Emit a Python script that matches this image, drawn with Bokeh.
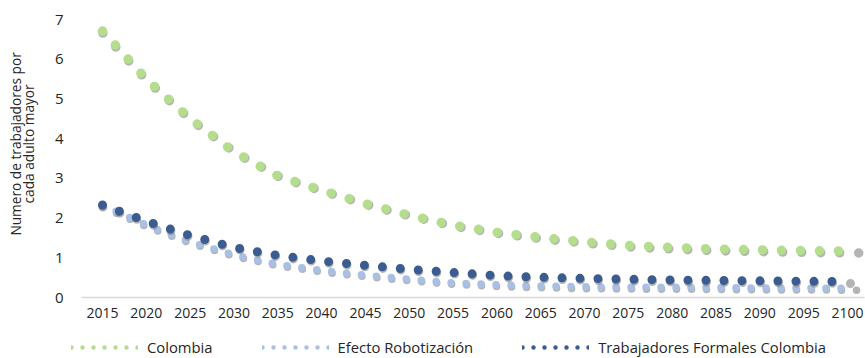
from bokeh.plotting import figure
from bokeh.layouts import column, row
from bokeh.models import Range1d, FixedTicker, Legend, LegendItem, Label
from bokeh.embed import file_html
from bokeh.resources import INLINE
import math

# Workers per older adult, 2015-2100 (5-year steps)
years = list(range(2015, 2101, 5))
colombia = [6.71, 5.50, 4.50, 3.67, 3.06, 2.70, 2.36, 2.07, 1.82, 1.64,
            1.51, 1.40, 1.31, 1.26, 1.22, 1.20, 1.18, 1.17]
efecto_robotizacion = [2.33, 1.82, 1.40, 1.07, 0.83, 0.68, 0.56, 0.46, 0.37, 0.32,
                       0.29, 0.27, 0.26, 0.26, 0.25, 0.24, 0.24, 0.23]
trabajadores_formales = [2.33, 1.92, 1.56, 1.26, 1.06, 0.92, 0.81, 0.71, 0.63, 0.55,
                         0.51, 0.48, 0.46, 0.44, 0.43, 0.42, 0.41, 0.40]
y_ticks = [0, 1, 2, 3, 4, 5, 6, 7]

series_names = ["Colombia", "Efecto Robotización", "Trabajadores Formales Colombia"]
colors = ["#b5dd8e", "#a9c0e4", "#3b5c90"]
y_title = ["Numero de trabajadores por", "cada adulto mayor"]

FONT = "Open Sans"
TEXT_COLOR = "#262626"

# geometry (px)
TITLE_W = 40                      # strip holding the vertical axis title
LEFT, TOP, FRAME_W, FRAME_H, BOTTOM, RIGHT = 41, 5, 783, 292, 30, 1
MAIN_W = LEFT + FRAME_W + RIGHT
MAIN_H = TOP + FRAME_H + BOTTOM
TOTAL_W = TITLE_W + MAIN_W
LEGEND_H = 358 - MAIN_H
x0, x1 = 2012.604, 2101.94
y0, y1 = 0.0, 7.353

# ---- main chart -------------------------------------------------------
p = figure(width=MAIN_W, height=MAIN_H,
           min_border_left=LEFT, min_border_right=RIGHT,
           min_border_top=TOP, min_border_bottom=BOTTOM,
           x_range=Range1d(x0, x1), y_range=Range1d(y0, y1),
           output_backend="svg", toolbar_location=None)

# soft drop shadow: a slightly stretched, lowered copy of each dotted line
px_per_unit_y = FRAME_H / (y1 - y0)
stretch = 1.018
dy = 2.0 / px_per_unit_y
p.extra_x_ranges = {"shadow_x": Range1d(x0, x0 + (x1 - x0) / stretch)}
p.extra_y_ranges = {"shadow_y": Range1d(y0 + dy, y1 + dy)}

series = [colombia, efecto_robotizacion, trabajadores_formales]
widths = [9.5, 7.5, 9.0]
dashes = ["0 19", "0 15", "0 18"]

for vals, col, w, d in zip(series, colors, widths, dashes):
    p.line(years, vals, x_range_name="shadow_x", y_range_name="shadow_y",
           line_color="#8c8c8c", line_alpha=0.65, line_width=w,
           line_dash=d, line_cap="round")
    p.line(years, vals, line_color=col, line_width=w,
           line_dash=d, line_cap="round")

p.xgrid.visible = False
p.ygrid.visible = False
p.outline_line_color = None

xa = p.xaxis[0]
xa.ticker = FixedTicker(ticks=years)
xa.axis_line_color = "#d9d9d9"
xa.axis_line_width = 1.3
xa.major_tick_line_color = None
xa.minor_tick_line_color = None
xa.major_tick_in = 0
xa.major_tick_out = 0
xa.major_label_standoff = 10
xa.major_label_text_font = FONT
xa.major_label_text_font_size = "14px"
xa.major_label_text_color = TEXT_COLOR

ya = p.yaxis[0]
ya.ticker = FixedTicker(ticks=y_ticks)
ya.axis_line_color = None
ya.major_tick_line_color = None
ya.minor_tick_line_color = None
ya.major_tick_in = 0
ya.major_tick_out = 0
ya.major_label_standoff = 18
ya.major_label_text_font = FONT
ya.major_label_text_font_size = "15px"
ya.major_label_text_color = TEXT_COLOR

# ---- vertical axis title strip ---------------------------------------
t = figure(width=TITLE_W, height=MAIN_H, min_border=0,
           x_range=Range1d(0, TITLE_W), y_range=Range1d(0, MAIN_H),
           x_axis_type=None, y_axis_type=None,
           output_backend="svg", toolbar_location=None)
t.grid.visible = False
t.outline_line_color = None
for txt, cx in zip(y_title, [15.0, 28.0]):
    t.add_layout(Label(x=cx, y=MAIN_H - 155, text=txt, angle=math.pi / 2,
                       text_align="center", text_baseline="middle",
                       text_font=FONT, text_font_size="13.7px",
                       text_color=TEXT_COLOR))

# ---- legend strip -----------------------------------------------------
lg = figure(width=TOTAL_W, height=LEGEND_H, min_border=0,
            x_range=Range1d(0, 1), y_range=Range1d(0, 1),
            x_axis_type=None, y_axis_type=None,
            output_backend="svg", toolbar_location=None)
lg.grid.visible = False
lg.outline_line_color = None

# the swatch renderers carry the series but lie outside this strip's ranges
legend_items = []
for name, vals, col in zip(series_names, series, colors):
    r = lg.line(years, vals, line_color=col, line_width=4.5,
                line_dash="0 11", line_cap="round")
    legend_items.append(LegendItem(label=name, renderers=[r]))

legend = Legend(items=legend_items, orientation="horizontal",
                location=(71, LEGEND_H - (348 - MAIN_H) - 9),
                glyph_width=67, glyph_height=14,
                label_height=14, label_standoff=9, spacing=49,
                padding=0, margin=0, border_line_color=None,
                background_fill_alpha=0,
                label_text_font=FONT, label_text_font_size="14.8px",
                label_text_color=TEXT_COLOR)
lg.add_layout(legend)

layout = column(row(t, p, spacing=0), lg, spacing=0)
open("out.html", "w").write(file_html(layout, INLINE))
